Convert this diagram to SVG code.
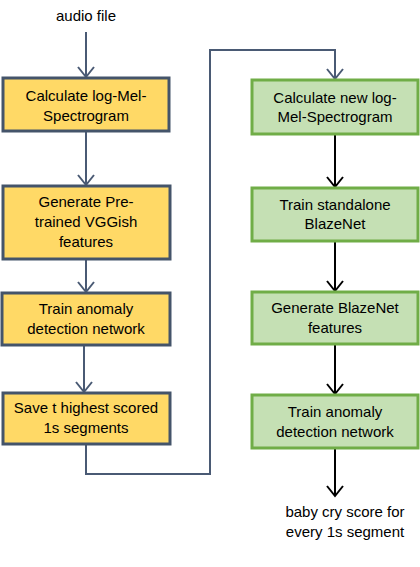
<svg xmlns="http://www.w3.org/2000/svg" width="420" height="567" viewBox="0 0 420 567">
<style>
.y{fill:#FFD966;stroke:#44546A;stroke-width:3}
.g{fill:#C5E0B4;stroke:#70AD47;stroke-width:3}
text{font-family:"Liberation Sans",Arial,sans-serif;font-size:15px;fill:#000;text-anchor:middle}
.cs{fill:none;stroke:#4A5A74;stroke-width:2}
.cb{fill:none;stroke:#000;stroke-width:2}
</style>
<rect width="420" height="567" fill="#fff"/>
<g id="connectors">
<g class="cs">
<path d="M86 32V77M78 67L86 77L94 67"/>
<path d="M86 132V185M78 175L86 185L94 175"/>
<path d="M86 260V292M78 282L86 292L94 282"/>
<path d="M84 346V392M76 382L84 392L92 382"/>
<path d="M86 445V474H210V50H335V79M327 69L335 79L343 69"/>
</g>
<g class="cb">
<path d="M335 135V187M327 177L335 187L343 177"/>
<path d="M335 242V291M327 281L335 291L343 281"/>
<path d="M335 345V394M327 384L335 394L343 384"/>
<path d="M335 449V496M327 486L335 496L343 486"/>
</g>
</g>
<g id="audio"><text x="86" y="21">audio file</text></g>
<g id="n1"><rect class="y" x="3" y="78" width="166" height="53"/><text x="86" y="101">Calculate log-Mel-</text><text x="86" y="121">Spectrogram</text></g>
<g id="n2"><rect class="y" x="3" y="186" width="167" height="73"/><text x="86" y="207">Generate Pre-</text><text x="86" y="227">trained VGGish</text><text x="86" y="247">features</text></g>
<g id="n3"><rect class="y" x="2" y="293" width="168" height="52"/><text x="86" y="314">Train anomaly</text><text x="86" y="334">detection network</text></g>
<g id="n4"><rect class="y" x="3" y="393" width="167" height="51"/><text x="86" y="413">Save t highest scored</text><text x="86" y="433">1s segments</text></g>
<g id="n5"><rect class="g" x="252" y="80" width="166" height="54"/><text x="335" y="103">Calculate new log-</text><text x="335" y="122">Mel-Spectrogram</text></g>
<g id="n6"><rect class="g" x="252" y="188" width="166" height="53"/><text x="335" y="210">Train standalone</text><text x="335" y="229">BlazeNet</text></g>
<g id="n7"><rect class="g" x="252" y="292" width="166" height="52"/><text x="335" y="313">Generate BlazeNet</text><text x="335" y="333">features</text></g>
<g id="n8"><rect class="g" x="252" y="395" width="166" height="53"/><text x="335" y="417">Train anomaly</text><text x="335" y="437">detection network</text></g>
<g id="out"><text x="345" y="517">baby cry score for</text><text x="345" y="537">every 1s segment</text></g>
</svg>
